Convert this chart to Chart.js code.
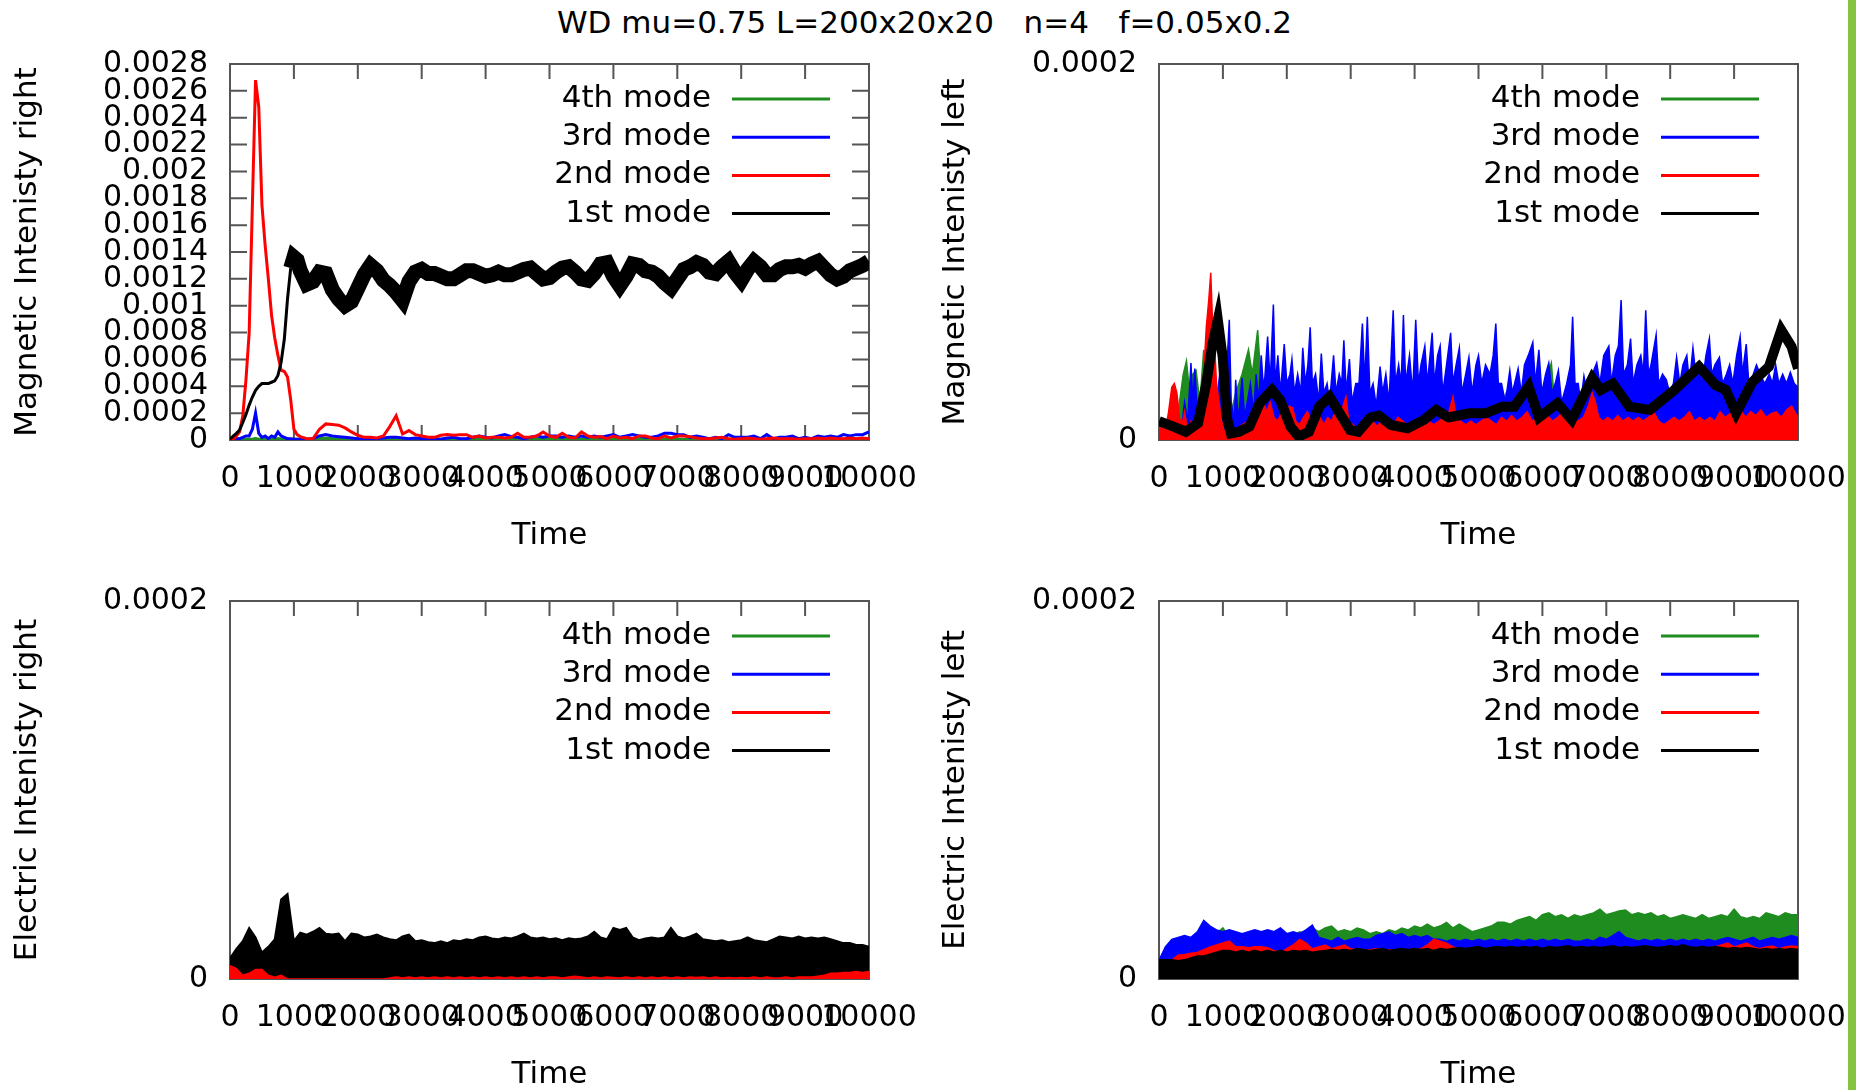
<!DOCTYPE html>
<html>
<head>
<meta charset="utf-8">
<script src="https://cdn.jsdelivr.net/npm/chart.js@4.4.1/dist/chart.umd.min.js"></script>
<style>
  body { margin: 0; background: #fff; width: 1856px; height: 1090px; overflow: hidden; position: relative; font-family: 'DejaVu Sans'; }
  canvas { position: absolute; }
  #title { position: absolute; left: 0; top: 7px; width: 1849px; text-align: center; font-size: 31px; line-height: 31px; white-space: pre; color: #000; }
  #strip { position: absolute; left: 1848px; top: 0; width: 8px; height: 1090px; background: #84c441; }
</style>
</head>
<body>
<div id="title">WD mu=0.75 L=200x20x20   n=4   f=0.05x0.2</div>
<canvas id="magRight" width="928" height="520" style="left:0;top:40px;width:928px;height:520px"></canvas>
<canvas id="magLeft" width="920" height="520" style="left:928px;top:40px;width:920px;height:520px"></canvas>
<canvas id="elecRight" width="928" height="534" style="left:0;top:560px;width:928px;height:534px"></canvas>
<canvas id="elecLeft" width="920" height="534" style="left:928px;top:560px;width:920px;height:534px"></canvas>
<div id="strip"></div>
<script>
// all intensities are in units of 1e-4
const modeLabels = ['1st mode', '2nd mode', '3rd mode', '4th mode'];
const modeColors = ['#000000', '#ff0000', '#0000ff', '#1e8c1e'];
const xTickLabels = ['0', '1000', '2000', '3000', '4000', '5000', '6000', '7000', '8000', '9000', '10000'];
const yTicksMagRight = ['0', '0.0002', '0.0004', '0.0006', '0.0008', '0.001', '0.0012', '0.0014',
  '0.0016', '0.0018', '0.002', '0.0022', '0.0024', '0.0026', '0.0028'];
const yTicksSmall = ['0', '0.0002'];

// ---- Magnetic intensity right ----
const tMagRight = [0, 50, 100, 150, 200, 250, 300, 350, 400, 450, 500, 550, 600, 650, 700, 750, 800, 850, 900, 950, 1000, 1050, 1100,
  1200, 1300, 1400, 1500, 1600, 1700, 1800, 1900, 2000, 2100,
  2200, 2300, 2400, 2500, 2600, 2700, 2800, 2900, 3000, 3100,
  3200, 3300, 3400, 3500, 3600, 3700, 3800, 3900, 4000, 4100,
  4200, 4300, 4400, 4500, 4600, 4700, 4800, 4900, 5000, 5100,
  5200, 5300, 5400, 5500, 5600, 5700, 5800, 5900, 6000, 6100,
  6200, 6300, 6400, 6500, 6600, 6700, 6800, 6900, 7000, 7100,
  7200, 7300, 7400, 7500, 7600, 7700, 7800, 7900, 8000, 8100,
  8200, 8300, 8400, 8500, 8600, 8700, 8800, 8900, 9000, 9100,
  9200, 9300, 9400, 9500, 9600, 9700, 9800, 9900, 10000];
const magRight1 = [0.05, 0.3, 0.5, 0.75, 1.3, 1.9, 2.6, 3.2, 3.7, 4.0, 4.2, 4.2, 4.2, 4.3, 4.4, 4.8, 5.8, 7.5, 10.5, 12.8, 13.6, 13.4, 12.6,
  11.6, 11.8, 12.5, 12.4, 11.2, 10.5, 10.0, 10.3, 11.3, 12.3,
  13.0, 12.6, 11.9, 11.5, 11.0, 10.4, 11.8, 12.5, 12.7, 12.4,
  12.4, 12.2, 12.0, 12.0, 12.3, 12.6, 12.6, 12.4, 12.2, 12.3,
  12.5, 12.3, 12.3, 12.5, 12.7, 12.8, 12.4, 12.0, 12.1, 12.5,
  12.8, 12.9, 12.5, 12.0, 11.9, 12.4, 13.1, 13.2, 12.2, 11.5,
  12.2, 13.1, 13.0, 12.6, 12.5, 12.2, 11.7, 11.3, 12.0, 12.7,
  12.9, 13.2, 13.0, 12.5, 12.4, 12.9, 13.3, 12.5, 11.9, 12.7,
  13.3, 12.9, 12.3, 12.3, 12.7, 12.9, 12.9, 13.0, 12.8, 13.1,
  13.3, 12.8, 12.3, 12.0, 12.2, 12.6, 12.8, 13.0, 13.3];
const magRight2 = [0, 0.05, 0.3, 0.6, 1.8, 4.5, 8.0, 17.5, 26.8, 24.8, 17.5, 14.5, 12.0, 9.3, 7.6, 6.3, 5.2, 5.1, 4.7, 3.0, 0.8, 0.4, 0.25,
  0.1, 0.1, 0.8, 1.2, 1.15, 1.1, 0.9, 0.6, 0.35, 0.2,
  0.2, 0.15, 0.3, 1.0, 1.8, 0.45, 0.7, 0.4, 0.3, 0.2,
  0.2, 0.35, 0.4, 0.35, 0.4, 0.4, 0.2, 0.3, 0.15, 0.2,
  0.2, 0.15, 0.2, 0.5, 0.2, 0.2, 0.3, 0.6, 0.3, 0.2,
  0.5, 0.2, 0.15, 0.6, 0.3, 0.2, 0.25, 0.1, 0.3, 0.15,
  0.2, 0.1, 0.3, 0.3, 0.15, 0.1, 0.3, 0.15, 0.3, 0.3,
  0.25, 0.15, 0.1, 0.1, 0.15, 0.2, 0.1, 0.05, 0.1, 0.15,
  0.1, 0.05, 0.1, 0.15, 0.1, 0.1, 0.1, 0.05, 0.1, 0.1,
  0.15, 0.1, 0.15, 0.1, 0.1, 0.15, 0.1, 0.15, 0.1];
const magRight3 = [0, 0.05, 0.1, 0.1, 0.2, 0.3, 0.3, 0.8, 2.0, 0.5, 0.2, 0.3, 0.1, 0.3, 0.2, 0.6, 0.3, 0.2, 0.1, 0.1, 0.05, 0.05, 0.05,
  0.05, 0.1, 0.3, 0.4, 0.3, 0.25, 0.2, 0.15, 0.1, 0.05,
  0.1, 0.1, 0.15, 0.2, 0.2, 0.15, 0.1, 0.15, 0.1, 0.1,
  0.1, 0.05, 0.15, 0.2, 0.1, 0.1, 0.2, 0.3, 0.2, 0.15,
  0.3, 0.4, 0.25, 0.2, 0.1, 0.2, 0.3, 0.2, 0.3, 0.3,
  0.2, 0.3, 0.2, 0.3, 0.2, 0.3, 0.2, 0.3, 0.4, 0.2,
  0.3, 0.4, 0.3, 0.2, 0.2, 0.3, 0.5, 0.5, 0.4, 0.4,
  0.2, 0.3, 0.2, 0.1, 0.2, 0.1, 0.4, 0.2, 0.2, 0.2,
  0.3, 0.1, 0.4, 0.1, 0.2, 0.2, 0.3, 0.1, 0.2, 0.1,
  0.3, 0.2, 0.3, 0.2, 0.4, 0.3, 0.4, 0.4, 0.6];
const magRight4 = [0, 0.02, 0.05, 0.05, 0.05, 0.05, 0.05, 0.05, 0.1, 0.05, 0.05, 0.1, 0.05, 0.05, 0.05, 0.1, 0.05, 0.05, 0.05, 0.05, 0.05, 0.05, 0.05,
  0.05, 0.05, 0.1, 0.15, 0.1, 0.05, 0.05, 0.05, 0.05, 0.05,
  0.05, 0.05, 0.05, 0.1, 0.05, 0.05, 0.05, 0.05, 0.05, 0.05,
  0.05, 0.05, 0.1, 0.05, 0.05, 0.05, 0.05, 0.1, 0.05, 0.05,
  0.05, 0.05, 0.05, 0.05, 0.1, 0.05, 0.05, 0.05, 0.05, 0.05,
  0.05, 0.1, 0.05, 0.05, 0.05, 0.05, 0.05, 0.1, 0.05, 0.05,
  0.05, 0.05, 0.05, 0.05, 0.05, 0.1, 0.05, 0.05, 0.05, 0.05,
  0.05, 0.05, 0.1, 0.05, 0.05, 0.05, 0.05, 0.05, 0.1, 0.05,
  0.05, 0.05, 0.05, 0.05, 0.05, 0.1, 0.05, 0.05, 0.05, 0.05,
  0.05, 0.05, 0.05, 0.1, 0.05, 0.05, 0.05, 0.1, 0.05];

// ---- Magnetic intensity left ----
const tMagLeft1 = [0, 226, 419, 612, 740, 837, 920, 997, 1062, 1126,
  1255, 1415, 1576, 1769, 1897, 2058, 2186, 2347, 2508, 2668,
  2829, 2990, 3118, 3311, 3440, 3633, 3890, 4147, 4340, 4532,
  4853, 5111, 5368, 5560, 5785, 5945, 6235, 6460, 6780, 6910,
  7103, 7360, 7681, 8067, 8452, 8710, 8870, 9031, 9288, 9545,
  9738, 9899, 10000];
const magLeft1 = [0.1, 0.071, 0.044, 0.09, 0.3, 0.51, 0.64, 0.44, 0.12, 0.035,
  0.044, 0.071, 0.195, 0.266, 0.213, 0.071, 0.018, 0.044, 0.177, 0.23,
  0.142, 0.053, 0.044, 0.12, 0.13, 0.08, 0.062, 0.107, 0.16, 0.12,
  0.142, 0.142, 0.177, 0.177, 0.284, 0.12, 0.195, 0.107, 0.328, 0.266,
  0.3, 0.177, 0.16, 0.266, 0.39, 0.292, 0.266, 0.142, 0.31, 0.39,
  0.585, 0.497, 0.38];
const tMagLeft2 = [0, 50, 100, 150, 200, 240, 280, 320, 360, 400,
  450, 500, 550, 600, 650, 700, 740, 780, 810, 840,
  870, 900, 940, 980, 1020, 1100, 1200, 1300, 1400, 1500,
  1560, 1620, 1680, 1740, 1800, 1860, 1920, 1980, 2040, 2090,
  2140, 2200, 2260, 2320, 2400, 2460, 2520, 2580, 2640, 2700,
  2760, 2820, 2880, 2925, 2970, 3040, 3100, 3180, 3260, 3340,
  3420, 3500, 3580, 3660, 3740, 3820, 3900, 3980, 4060, 4140,
  4220, 4300, 4380, 4460, 4540, 4600, 4650, 4720, 4800, 4880,
  4960, 5040, 5120, 5200, 5280, 5360, 5440, 5520, 5600, 5680,
  5760, 5840, 5920, 6000, 6080, 6160, 6240, 6320, 6400, 6480,
  6560, 6640, 6720, 6780, 6830, 6880, 6950, 7020, 7100, 7180,
  7260, 7340, 7420, 7500, 7580, 7660, 7740, 7820, 7900, 7980,
  8060, 8140, 8220, 8300, 8380, 8460, 8540, 8620, 8700, 8780,
  8860, 8940, 9020, 9100, 9180, 9260, 9340, 9420, 9500, 9580,
  9660, 9740, 9820, 9900, 10000];
const magLeft2 = [0.02, 0.1, 0.05, 0.15, 0.28, 0.3, 0.25, 0.12, 0.08, 0.15,
  0.05, 0.1, 0.08, 0.1, 0.15, 0.35, 0.6, 0.75, 0.89, 0.6,
  0.5, 0.3, 0.2, 0.1, 0.05, 0.03, 0.05, 0.08, 0.1, 0.12,
  0.2, 0.23, 0.15, 0.2, 0.12, 0.1, 0.15, 0.12, 0.18, 0.17,
  0.1, 0.08, 0.12, 0.15, 0.1, 0.16, 0.12, 0.08, 0.12, 0.1,
  0.15, 0.12, 0.18, 0.23, 0.1, 0.08, 0.06, 0.1, 0.08, 0.1,
  0.07, 0.12, 0.1, 0.08, 0.12, 0.1, 0.07, 0.1, 0.08, 0.12,
  0.1, 0.08, 0.1, 0.12, 0.15, 0.23, 0.12, 0.1, 0.08, 0.1,
  0.08, 0.1, 0.12, 0.1, 0.08, 0.12, 0.1, 0.13, 0.1, 0.12,
  0.15, 0.1, 0.12, 0.1, 0.13, 0.1, 0.12, 0.15, 0.1, 0.12,
  0.1, 0.12, 0.18, 0.25, 0.2, 0.12, 0.1, 0.12, 0.1, 0.13,
  0.1, 0.12, 0.1, 0.12, 0.1, 0.12, 0.15, 0.1, 0.08, 0.1,
  0.12, 0.1, 0.12, 0.15, 0.1, 0.12, 0.1, 0.12, 0.1, 0.15,
  0.12, 0.14, 0.1, 0.16, 0.12, 0.15, 0.13, 0.16, 0.12, 0.14,
  0.15, 0.12, 0.16, 0.18, 0.12];
const tMagLeft3 = [0, 50, 100, 150, 200, 300, 350, 400, 450, 500,
  530, 560, 600, 650, 700, 750, 800, 850, 900, 950,
  1000, 1050, 1100, 1130, 1180, 1200, 1240, 1300, 1340, 1380,
  1430, 1480, 1520, 1560, 1600, 1640, 1700, 1740, 1790, 1820,
  1860, 1900, 1960, 2000, 2050, 2080, 2120, 2170, 2220, 2250,
  2290, 2330, 2366, 2400, 2450, 2500, 2540, 2580, 2630, 2670,
  2732, 2770, 2820, 2860, 2893, 2930, 2980, 3020, 3080, 3130,
  3183, 3220, 3260, 3300, 3350, 3400, 3460, 3500, 3550, 3600,
  3665, 3700, 3750, 3790, 3825, 3860, 3920, 3970, 4018, 4060,
  4100, 4160, 4200, 4275, 4310, 4360, 4400, 4440, 4500, 4564,
  4600, 4650, 4700, 4740, 4800, 4850, 4900, 4960, 5000, 5050,
  5110, 5180, 5230, 5271, 5310, 5360, 5420, 5490, 5530, 5620,
  5670, 5720, 5780, 5850, 5890, 5945, 5990, 6050, 6100, 6150,
  6200, 6250, 6300, 6380, 6440, 6473, 6510, 6560, 6600, 6650,
  6700, 6780, 6850, 6900, 6960, 7040, 7080, 7140, 7190, 7232,
  7270, 7330, 7380, 7420, 7480, 7540, 7580, 7617, 7660, 7700,
  7780, 7820, 7880, 7940, 7990, 8050, 8100, 8150, 8200, 8260,
  8300, 8356, 8400, 8450, 8500, 8560, 8613, 8650, 8700, 8770,
  8820, 8880, 8930, 8980, 9040, 9095, 9130, 9190, 9230, 9300,
  9350, 9420, 9480, 9550, 9600, 9650, 9700, 9760, 9820, 9880,
  9940, 10000];
const magLeft3 = [0.02, 0.05, 0.03, 0.08, 0.05, 0.1, 0.06, 0.2, 0.1, 0.41,
  0.2, 0.38, 0.15, 0.2, 0.1, 0.25, 0.15, 0.3, 0.2, 0.35,
  0.25, 0.3, 0.64, 0.2, 0.1, 0.32, 0.1, 0.33, 0.12, 0.2,
  0.3, 0.15, 0.35, 0.2, 0.45, 0.25, 0.55, 0.3, 0.72, 0.3,
  0.45, 0.25, 0.51, 0.3, 0.35, 0.43, 0.25, 0.35, 0.25, 0.49,
  0.3, 0.4, 0.6, 0.3, 0.35, 0.2, 0.46, 0.25, 0.3, 0.2,
  0.45, 0.25, 0.35, 0.3, 0.53, 0.25, 0.43, 0.2, 0.3, 0.3,
  0.62, 0.3, 0.655, 0.25, 0.3, 0.18, 0.39, 0.25, 0.35, 0.2,
  0.69, 0.3, 0.4, 0.3, 0.665, 0.3, 0.45, 0.25, 0.64, 0.3,
  0.4, 0.5, 0.3, 0.57, 0.3, 0.45, 0.5, 0.25, 0.4, 0.57,
  0.3, 0.4, 0.49, 0.25, 0.35, 0.44, 0.25, 0.4, 0.45, 0.3,
  0.4, 0.35, 0.45, 0.62, 0.3, 0.3, 0.2, 0.37, 0.25, 0.38,
  0.25, 0.4, 0.45, 0.52, 0.3, 0.48, 0.25, 0.35, 0.41, 0.25,
  0.3, 0.37, 0.2, 0.3, 0.4, 0.655, 0.3, 0.3, 0.2, 0.34,
  0.25, 0.35, 0.41, 0.3, 0.45, 0.5, 0.3, 0.45, 0.5, 0.745,
  0.35, 0.4, 0.54, 0.3, 0.4, 0.45, 0.35, 0.69, 0.35, 0.4,
  0.56, 0.3, 0.35, 0.32, 0.25, 0.3, 0.44, 0.3, 0.4, 0.45,
  0.3, 0.49, 0.35, 0.4, 0.3, 0.45, 0.54, 0.35, 0.4, 0.44,
  0.3, 0.35, 0.4, 0.3, 0.45, 0.55, 0.35, 0.51, 0.3, 0.35,
  0.4, 0.34, 0.3, 0.35, 0.3, 0.4, 0.3, 0.35, 0.3, 0.36,
  0.3, 0.28];
const tMagLeft4 = [0, 100, 200, 300, 380, 430, 480, 530, 580, 640,
  700, 740, 800, 860, 920, 1000, 1100, 1200, 1300, 1400,
  1460, 1544, 1600, 1700, 1800, 1900, 2000, 2200, 2400, 2600,
  2800, 3000, 3250, 3500, 3800, 4100, 4400, 4700, 4850, 4900,
  5100, 5300, 5500, 5600, 5900, 6140, 6200, 6500, 6800, 7000,
  7100, 7300, 7500, 7800, 8100, 8400, 8700, 9000, 9300, 9600,
  10000];
const magLeft4 = [0.02, 0.05, 0.1, 0.15, 0.35, 0.42, 0.25, 0.35, 0.37, 0.2,
  0.48, 0.3, 0.2, 0.1, 0.05, 0.03, 0.1, 0.25, 0.35, 0.48,
  0.35, 0.585, 0.3, 0.35, 0.2, 0.15, 0.1, 0.1, 0.12, 0.1,
  0.15, 0.1, 0.2, 0.1, 0.12, 0.1, 0.12, 0.15, 0.39, 0.15,
  0.12, 0.15, 0.3, 0.12, 0.15, 0.41, 0.15, 0.12, 0.15, 0.2,
  0.12, 0.2, 0.12, 0.15, 0.12, 0.2, 0.12, 0.15, 0.12, 0.15,
  0.1];

// ---- Electric intensities (sampled every 100) ----
const time100 = [0, 100, 200, 300, 400, 500, 600, 700, 800, 900,
  1000, 1100, 1200, 1300, 1400, 1500, 1600, 1700, 1800, 1900,
  2000, 2100, 2200, 2300, 2400, 2500, 2600, 2700, 2800, 2900,
  3000, 3100, 3200, 3300, 3400, 3500, 3600, 3700, 3800, 3900,
  4000, 4100, 4200, 4300, 4400, 4500, 4600, 4700, 4800, 4900,
  5000, 5100, 5200, 5300, 5400, 5500, 5600, 5700, 5800, 5900,
  6000, 6100, 6200, 6300, 6400, 6500, 6600, 6700, 6800, 6900,
  7000, 7100, 7200, 7300, 7400, 7500, 7600, 7700, 7800, 7900,
  8000, 8100, 8200, 8300, 8400, 8500, 8600, 8700, 8800, 8900,
  9000, 9100, 9200, 9300, 9400, 9500, 9600, 9700, 9800, 9900,
  10000];
const tFlat = [0, 10000];
const flatZero = [0, 0];

const elecRight1 = [0.11, 0.16, 0.2, 0.27, 0.22, 0.14, 0.17, 0.21, 0.42, 0.45,
  0.2, 0.245, 0.235, 0.25, 0.27, 0.24, 0.235, 0.24, 0.2, 0.24,
  0.235, 0.22, 0.225, 0.235, 0.22, 0.21, 0.205, 0.225, 0.235, 0.2,
  0.205, 0.195, 0.19, 0.2, 0.19, 0.205, 0.2, 0.21, 0.205, 0.22,
  0.225, 0.215, 0.21, 0.22, 0.215, 0.225, 0.24, 0.22, 0.215, 0.22,
  0.21, 0.215, 0.205, 0.215, 0.21, 0.215, 0.225, 0.25, 0.22, 0.21,
  0.27, 0.26, 0.27, 0.22, 0.205, 0.215, 0.22, 0.215, 0.22, 0.27,
  0.225, 0.215, 0.225, 0.24, 0.21, 0.205, 0.2, 0.205, 0.195, 0.2,
  0.205, 0.22, 0.205, 0.2, 0.195, 0.21, 0.225, 0.22, 0.215, 0.225,
  0.215, 0.22, 0.215, 0.22, 0.21, 0.2, 0.19, 0.19, 0.18, 0.18,
  0.17];
const elecRight2 = [0.07, 0.055, 0.02, 0.03, 0.05, 0.05, 0.02, 0.01, 0.02, 0,
  0, 0, 0, 0, 0, 0, 0, 0, 0, 0,
  0, 0, 0, 0, 0, 0.005, 0.01, 0.005, 0.01, 0.005,
  0.01, 0.005, 0.01, 0.005, 0.01, 0.005, 0.01, 0.005, 0.01, 0.005,
  0.01, 0.005, 0.01, 0.005, 0.01, 0.005, 0.01, 0.005, 0.01, 0.005,
  0.01, 0.01, 0.005, 0.01, 0.015, 0.01, 0.005, 0.01, 0.005, 0.01,
  0.008, 0.005, 0.01, 0.005, 0.01, 0.005, 0.01, 0.005, 0.01, 0.005,
  0.01, 0.005, 0.01, 0.008, 0.01, 0.005, 0.01, 0.005, 0.008, 0.005,
  0.008, 0.005, 0.01, 0.005, 0.01, 0.005, 0.005, 0.01, 0.005, 0.01,
  0.01, 0.01, 0.015, 0.02, 0.03, 0.03, 0.035, 0.035, 0.04, 0.035,
  0.04];

const elecLeft1 = [0.1, 0.1, 0.1, 0.095, 0.1, 0.11, 0.12, 0.12, 0.13, 0.14,
  0.15, 0.15, 0.14, 0.15, 0.14, 0.15, 0.14, 0.15, 0.14, 0.15,
  0.14, 0.15, 0.145, 0.15, 0.14, 0.145, 0.15, 0.155, 0.15, 0.155,
  0.15, 0.16, 0.155, 0.15, 0.155, 0.16, 0.15, 0.155, 0.16, 0.155,
  0.16, 0.155, 0.16, 0.15, 0.16, 0.155, 0.16, 0.165, 0.16, 0.165,
  0.17, 0.16, 0.165, 0.17, 0.165, 0.17, 0.165, 0.17, 0.165, 0.17,
  0.16, 0.17, 0.165, 0.17, 0.175, 0.165, 0.17, 0.165, 0.17, 0.165,
  0.17, 0.175, 0.165, 0.17, 0.165, 0.17, 0.175, 0.17, 0.165, 0.17,
  0.175, 0.17, 0.18, 0.17, 0.165, 0.17, 0.165, 0.17, 0.165, 0.16,
  0.165, 0.16, 0.165, 0.16, 0.155, 0.16, 0.155, 0.16, 0.155, 0.16,
  0.155];
const elecLeft2 = [0.1, 0.07, 0.1, 0.126, 0.13, 0.136, 0.14, 0.155, 0.17, 0.18,
  0.19, 0.2, 0.17, 0.17, 0.165, 0.17, 0.17, 0.165, 0.15, 0.14,
  0.16, 0.18, 0.21, 0.19, 0.16, 0.17, 0.18, 0.16, 0.17, 0.18,
  0.16, 0.155, 0.15, 0.155, 0.16, 0.15, 0.155, 0.15, 0.16, 0.15,
  0.155, 0.16, 0.18, 0.21, 0.2, 0.19, 0.17, 0.16, 0.155, 0.16,
  0.155, 0.16, 0.155, 0.16, 0.155, 0.16, 0.155, 0.16, 0.155, 0.16,
  0.155, 0.16, 0.155, 0.16, 0.155, 0.16, 0.155, 0.16, 0.155, 0.16,
  0.155, 0.16, 0.155, 0.16, 0.155, 0.16, 0.155, 0.16, 0.155, 0.16,
  0.155, 0.16, 0.155, 0.16, 0.155, 0.16, 0.165, 0.17, 0.18, 0.19,
  0.17, 0.18, 0.19, 0.17, 0.16, 0.17, 0.175, 0.16, 0.17, 0.175,
  0.17];
const elecLeft3 = [0.1, 0.17, 0.21, 0.22, 0.23, 0.22, 0.25, 0.31, 0.28, 0.26,
  0.25, 0.26, 0.25, 0.24, 0.25, 0.26, 0.25, 0.26, 0.25, 0.27,
  0.24, 0.25, 0.24, 0.26, 0.285, 0.22, 0.21, 0.2, 0.22, 0.2,
  0.21, 0.22, 0.21, 0.21, 0.23, 0.24, 0.25, 0.23, 0.24, 0.22,
  0.23, 0.22, 0.23, 0.21, 0.21, 0.2, 0.21, 0.2, 0.21, 0.2,
  0.21, 0.2, 0.21, 0.2, 0.21, 0.2, 0.21, 0.2, 0.21, 0.2,
  0.21, 0.2, 0.21, 0.2, 0.21, 0.2, 0.2, 0.21, 0.2, 0.22,
  0.21, 0.23, 0.25, 0.22, 0.21, 0.2, 0.21, 0.2, 0.21, 0.2,
  0.21, 0.2, 0.21, 0.2, 0.21, 0.2, 0.21, 0.2, 0.21, 0.22,
  0.21, 0.2, 0.21, 0.22, 0.2, 0.21, 0.22, 0.21, 0.22, 0.23,
  0.22];
const elecLeft4 = [0.1, 0.12, 0.15, 0.16, 0.18, 0.19, 0.2, 0.21, 0.22, 0.24,
  0.27, 0.22, 0.24, 0.23, 0.23, 0.24, 0.24, 0.23, 0.25, 0.24,
  0.24, 0.23, 0.25, 0.24, 0.27, 0.25, 0.27, 0.28, 0.25, 0.26,
  0.25, 0.27, 0.26, 0.24, 0.25, 0.24, 0.26, 0.25, 0.27, 0.26,
  0.28, 0.27, 0.29, 0.27, 0.28, 0.3, 0.27, 0.29, 0.27, 0.25,
  0.26, 0.27, 0.28, 0.3, 0.3, 0.29, 0.31, 0.32, 0.33, 0.31,
  0.34, 0.35, 0.33, 0.34, 0.32, 0.34, 0.33, 0.34, 0.35, 0.37,
  0.34, 0.35, 0.36, 0.365, 0.34, 0.35, 0.34, 0.35, 0.33, 0.34,
  0.32, 0.33, 0.34, 0.33, 0.32, 0.34, 0.32, 0.33, 0.34, 0.33,
  0.37, 0.33, 0.32, 0.33, 0.32, 0.35, 0.34, 0.33, 0.35, 0.34,
  0.34];

Chart.defaults.font.family = "'DejaVu Sans'";
Chart.defaults.color = '#000';

function series(i, t, v, extra) {
  return Object.assign({
    label: modeLabels[i],
    borderColor: modeColors[i],
    backgroundColor: modeColors[i],
    data: t.map((x, k) => ({ x: x, y: v[k] })),
    pointRadius: 0,
    borderWidth: 3,
    tension: 0,
    fill: false
  }, extra || {});
}

// gnuplot style border with inward ticks
const gnuFrame = {
  id: 'gnuFrame',
  beforeDatasetsDraw(chart) {
    const { ctx, chartArea: a, scales: { x, y } } = chart;
    ctx.save();
    ctx.strokeStyle = '#555';
    ctx.lineWidth = 2;
    ctx.beginPath();
    x.ticks.forEach(t => {
      const px = x.getPixelForValue(t.value);
      ctx.moveTo(px, a.top); ctx.lineTo(px, a.top + 15);
      ctx.moveTo(px, a.bottom); ctx.lineTo(px, a.bottom - 15);
    });
    y.ticks.forEach(t => {
      const py = y.getPixelForValue(t.value);
      ctx.moveTo(a.left, py); ctx.lineTo(a.left + 17, py);
      ctx.moveTo(a.right, py); ctx.lineTo(a.right - 17, py);
    });
    ctx.stroke();
    ctx.strokeRect(a.left, a.top, a.right - a.left, a.bottom - a.top);
    ctx.restore();
  }
};

// key: text right-aligned, sample line on its right, last dataset on top
const gnuKey = {
  id: 'gnuKey',
  afterDatasetsDraw(chart) {
    const { ctx, chartArea: a } = chart;
    const ds = chart.data.datasets;
    ctx.save();
    ctx.font = "31px 'DejaVu Sans'";
    ctx.textAlign = 'right';
    ctx.textBaseline = 'middle';
    ctx.fillStyle = '#000';
    for (let r = 0; r < ds.length; r++) {
      const d = ds[ds.length - 1 - r];
      const yy = a.top + 35 + r * 38.2;
      ctx.fillText(d.label, a.right - 158, yy);
      ctx.strokeStyle = d.borderColor;
      ctx.lineWidth = 3;
      ctx.beginPath();
      ctx.moveTo(a.right - 137, yy);
      ctx.lineTo(a.right - 39, yy);
      ctx.stroke();
    }
    ctx.restore();
  }
};

function panel(id, opt) {
  return new Chart(document.getElementById(id), {
    type: 'line',
    data: { datasets: opt.datasets },
    options: {
      responsive: false,
      animation: false,
      devicePixelRatio: 1,
      events: [],
      layout: { padding: opt.padding },
      plugins: { legend: { display: false }, tooltip: { enabled: false } },
      scales: {
        x: {
          type: 'linear', min: 0, max: 10000,
          // fixed band height; label overhang handled by layout padding
          afterFit: s => { s.height = 115; s.paddingLeft = 0; s.paddingRight = 0; },
          grid: { display: false, drawTicks: false },
          border: { display: false },
          ticks: { stepSize: 1000, autoSkip: false, maxRotation: 0, minRotation: 0, padding: 21,
                   font: { size: 30 }, color: '#000', callback: (v, i) => xTickLabels[i] },
          title: { display: true, text: 'Time', font: { size: 31 }, color: '#000', padding: { top: 0, bottom: 0 } }
        },
        y: {
          type: 'linear', min: 0, max: opt.yMax,
          afterFit: s => { s.width = opt.yWidth; s.paddingTop = 0; s.paddingBottom = 0; },
          grid: { display: false, drawTicks: false },
          border: { display: false },
          ticks: { stepSize: opt.yStep, autoSkip: false, padding: 22,
                   font: { size: 30 }, color: '#000', callback: (v, i) => opt.yLabels[i] },
          title: { display: true, text: opt.yTitle, font: { size: 31 }, color: '#000', padding: { top: 9, bottom: 0 } }
        }
      }
    },
    plugins: [gnuFrame, gnuKey]
  });
}

panel('magRight', {
  yMax: 28, yStep: 2, yLabels: yTicksMagRight, yWidth: 230,
  yTitle: 'Magnetic Intenisty right',
  padding: { left: 0, top: 24, right: 59, bottom: 5 },
  datasets: [
    series(0, tMagRight, magRight1, { segment: { borderWidth: c => (c.p0.parsed.x >= 950 ? 15 : 3) } }),
    series(1, tMagRight, magRight2),
    series(2, tMagRight, magRight3),
    series(3, tMagRight, magRight4)
  ]
});

panel('magLeft', {
  yMax: 2, yStep: 2, yLabels: yTicksSmall, yWidth: 231,
  yTitle: 'Magnetic Intenisty left',
  padding: { left: 0, top: 24, right: 50, bottom: 5 },
  datasets: [
    series(0, tMagLeft1, magLeft1, { borderWidth: 10 }),
    series(1, tMagLeft2, magLeft2, { fill: 'origin', borderWidth: 1.5 }),
    series(2, tMagLeft3, magLeft3, { fill: 'origin', borderWidth: 1.5 }),
    series(3, tMagLeft4, magLeft4, { fill: 'origin', borderWidth: 1.5 })
  ]
});

panel('elecRight', {
  yMax: 2, yStep: 2, yLabels: yTicksSmall, yWidth: 230,
  yTitle: 'Electric Intenisty right',
  padding: { left: 0, top: 41, right: 59, bottom: 0 },
  datasets: [
    series(0, time100, elecRight1, { fill: 'origin', borderWidth: 2 }),
    series(1, time100, elecRight2, { fill: 'origin', borderWidth: 1.5, order: -1 }),
    series(2, tFlat, flatZero),
    series(3, tFlat, flatZero)
  ]
});

panel('elecLeft', {
  yMax: 2, yStep: 2, yLabels: yTicksSmall, yWidth: 231,
  yTitle: 'Electric Intenisty left',
  padding: { left: 0, top: 41, right: 50, bottom: 0 },
  datasets: [
    series(0, time100, elecLeft1, { fill: 'origin', borderWidth: 2 }),
    series(1, time100, elecLeft2, { fill: 'origin', borderWidth: 1.5 }),
    series(2, time100, elecLeft3, { fill: 'origin', borderWidth: 1.5 }),
    series(3, time100, elecLeft4, { fill: 'origin', borderWidth: 1.5 })
  ]
});
</script>
</body>
</html>
